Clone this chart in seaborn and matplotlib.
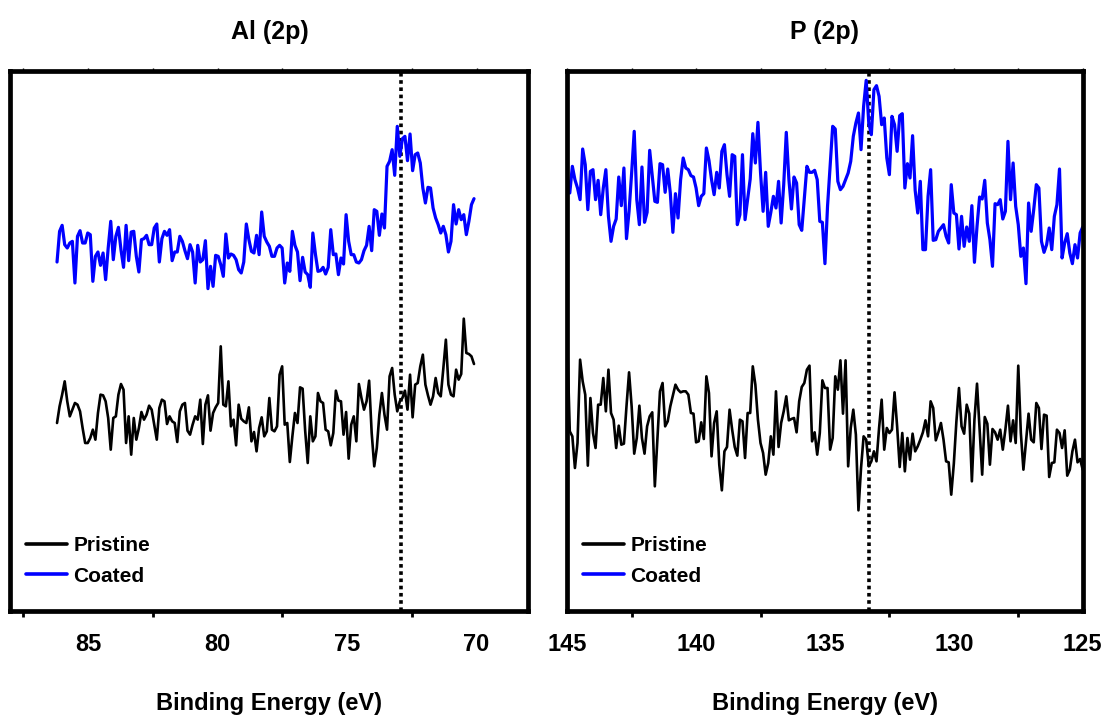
import numpy as np
import pandas as pd
import matplotlib
matplotlib.use("Agg")
import matplotlib.pyplot as plt
import seaborn as sns
from matplotlib import font_manager
from matplotlib.ticker import FixedLocator

# XPS intensities (arbitrary units), sampled on an evenly stepped binding-energy grid
al_pristine = [
    564, 614, 649, 689, 629, 584, 604, 624, 619, 599, 549, 504, 504, 519, 544, 514,
    594, 649, 647, 629, 579, 484, 579, 584, 649, 681, 664, 504, 584, 469, 579, 514,
    549, 597, 574, 589, 616, 604, 559, 514, 609, 634, 629, 561, 584, 569, 564, 507,
    599, 619, 624, 541, 529, 559, 584, 574, 634, 501, 619, 647, 541, 594, 611, 624,
    794, 619, 614, 689, 554, 574, 497, 619, 577, 569, 564, 611, 509, 537, 479, 549,
    581, 524, 539, 639, 544, 539, 554, 709, 734, 559, 564, 447, 524, 594, 564, 671,
    667, 541, 444, 584, 509, 524, 654, 629, 624, 544, 539, 497, 534, 661, 631, 629,
    529, 597, 457, 559, 584, 509, 681, 639, 604, 629, 691, 534, 434, 489, 589, 654,
    589, 544, 704, 729, 649, 599, 629, 639, 661, 604, 709, 581, 679, 684, 734, 769,
    679, 647, 619, 644, 699, 654, 644, 727, 814, 679, 649, 644, 724, 694, 711, 877,
    774, 771, 764, 741,
]
al_coated = [
    1047, 1139, 1157, 1099, 1089, 1104, 1109, 984, 1124, 1141, 1104, 1104, 1134, 1129,
    989, 1064, 1077, 1037, 1074, 994, 1089, 1169, 1054, 1124, 1151, 1084, 1031, 1157,
    1051, 1137, 1139, 1064, 1017, 1114, 1117, 1127, 1099, 1099, 1149, 1161, 1047, 1117,
    1139, 1127, 1144, 1051, 1077, 1077, 1124, 1109, 1081, 1057, 1099, 1077, 984, 1097,
    1047, 1054, 1111, 967, 1034, 974, 1067, 1064, 1039, 1004, 1131, 1059, 1071, 1067,
    1054, 1024, 1014, 1047, 1161, 1114, 1079, 1074, 1127, 1069, 1197, 1124, 1107, 1094,
    1064, 1064, 1089, 1097, 1089, 984, 1044, 1019, 1139, 1097, 1077, 991, 1061, 1017,
    1009, 971, 1134, 1071, 1019, 1021, 1031, 1011, 1031, 1144, 1069, 1071, 1009, 1059,
    1041, 1189, 1109, 1069, 1069, 1047, 1044, 1054, 1081, 1097, 1154, 1081, 1204, 1199,
    1127, 1191, 1149, 1334, 1349, 1384, 1307, 1454, 1364, 1417, 1424, 1351, 1431, 1321,
    1369, 1374, 1344, 1269, 1224, 1271, 1269, 1209, 1179, 1159, 1134, 1154, 1129, 1077,
    1109, 1219, 1161, 1204, 1174, 1189, 1129, 1169, 1219, 1237,
]
p_pristine = [
    814, 539, 524, 429, 504, 754, 689, 649, 436, 639, 534, 489, 619, 619, 699, 599,
    724, 594, 574, 489, 556, 499, 502, 614, 716, 614, 472, 519, 616, 519, 472, 554,
    584, 596, 374, 514, 659, 684, 554, 569, 614, 646, 679, 664, 656, 659, 659, 649,
    594, 592, 506, 509, 566, 516, 704, 654, 464, 564, 599, 439, 362, 479, 492, 604,
    544, 492, 466, 574, 569, 459, 594, 594, 734, 679, 574, 504, 474, 409, 444, 524,
    469, 659, 492, 564, 599, 644, 572, 576, 579, 536, 629, 672, 684, 724, 736, 509,
    536, 469, 534, 692, 669, 669, 484, 519, 704, 664, 752, 592, 752, 434, 549, 604,
    529, 302, 429, 524, 514, 434, 449, 479, 449, 549, 634, 484, 549, 534, 544, 656,
    554, 432, 534, 419, 519, 454, 532, 479, 494, 514, 536, 572, 524, 629, 609, 512,
    536, 564, 514, 449, 446, 349, 442, 569, 669, 554, 532, 619, 592, 389, 574, 682,
    544, 409, 582, 562, 439, 546, 536, 514, 544, 484, 544, 616, 509, 572, 504, 736,
    534, 424, 509, 592, 514, 506, 624, 609, 486, 589, 586, 402, 444, 446, 544, 534,
    489, 542, 406, 424, 479, 514, 446, 456, 424,
]
p_coated = [
    1299, 1254, 1334, 1294, 1269, 1234, 1386, 1339, 1204, 1319, 1324, 1234, 1292, 1189,
    1269, 1324, 1184, 1109, 1154, 1176, 1302, 1216, 1329, 1117, 1199, 1314, 1439, 1234,
    1159, 1332, 1166, 1196, 1382, 1304, 1229, 1226, 1342, 1339, 1256, 1326, 1254, 1136,
    1252, 1179, 1294, 1359, 1329, 1324, 1306, 1302, 1269, 1216, 1244, 1252, 1389, 1352,
    1294, 1249, 1316, 1269, 1379, 1399, 1309, 1244, 1369, 1364, 1159, 1189, 1369, 1174,
    1236, 1296, 1432, 1344, 1466, 1316, 1199, 1316, 1154, 1196, 1244, 1209, 1289, 1164,
    1279, 1436, 1296, 1206, 1302, 1284, 1159, 1142, 1236, 1334, 1316, 1316, 1322, 1294,
    1169, 1166, 1042, 1214, 1334, 1454, 1446, 1289, 1264, 1274, 1294, 1314, 1349, 1424,
    1464, 1494, 1384, 1514, 1592, 1464, 1429, 1564, 1576, 1544, 1459, 1479, 1359, 1309,
    1484, 1459, 1379, 1486, 1492, 1269, 1342, 1299, 1426, 1262, 1194, 1289, 1084, 1084,
    1244, 1324, 1112, 1114, 1139, 1149, 1159, 1124, 1104, 1279, 1194, 1189, 1086, 1184,
    1094, 1152, 1109, 1216, 1046, 1154, 1242, 1236, 1292, 1164, 1114, 1034, 1222, 1219,
    1234, 1176, 1199, 1409, 1234, 1344, 1214, 1159, 1064, 1089, 982, 1224, 1139, 1204,
    1279, 1269, 1109, 1076, 1099, 1149, 1084, 1184, 1219, 1326, 1059, 1104, 1132, 1074,
    1042, 1099, 1059, 1134, 1152,
]

# Binding-energy ranges of the scans (first and last channel, eV)
al_energy_range = (86.2, 70.1)
p_energy_range = (145.0, 125.0)

# Reference peak positions marked by dotted lines (eV)
al_marker = 72.9
p_marker = 133.3

panel_titles = ["Al (2p)", "P (2p)"]
series_labels = ["Pristine", "Coated"]
x_label = "Binding Energy (eV)"
al_ticks = [85, 80, 75, 70]
al_minor = [87.5, 82.5, 77.5, 72.5]
p_ticks = [145, 140, 135, 130, 125]
p_minor = [142.5, 137.5, 132.5, 127.5]


def spectrum_frame(energy_range, pristine, coated):
    n = len(pristine)
    energy = np.linspace(energy_range[0], energy_range[1], n)
    return pd.concat([
        pd.DataFrame({"energy": energy, "intensity": pristine, "sample": series_labels[0]}),
        pd.DataFrame({"energy": energy, "intensity": coated, "sample": series_labels[1]}),
    ], ignore_index=True)


sns.set_theme(style="white")


def pick_family():
    for fam in ["Liberation Sans Narrow", "Liberation Sans", "DejaVu Sans"]:
        try:
            font_manager.findfont(font_manager.FontProperties(family=fam),
                                  fallback_to_default=False)
            return fam
        except Exception:
            continue
    return "DejaVu Sans"


FAMILY = pick_family()
plt.rcParams["font.family"] = [FAMILY, "DejaVu Sans"]
plt.rcParams["font.weight"] = "bold"
plt.rcParams["text.color"] = "black"
plt.rcParams["axes.labelcolor"] = "black"
plt.rcParams["xtick.color"] = "black"

fig = plt.figure(figsize=(11.07, 7.25), dpi=100)
ax_al = fig.add_axes([10.4 / 1107, 114 / 725, 518 / 1107, 540 / 725])
ax_p = fig.add_axes([567.2 / 1107, 114 / 725, 515.5 / 1107, 540 / 725])

panels = [
    (ax_al, spectrum_frame(al_energy_range, al_pristine, al_coated), (88, 68),
     al_ticks, al_minor, al_marker, panel_titles[0]),
    (ax_p, spectrum_frame(p_energy_range, p_pristine, p_coated), (145, 125),
     p_ticks, p_minor, p_marker, panel_titles[1]),
]

palette = {series_labels[0]: "#000000", series_labels[1]: "#0000FF"}

for ax, df, xlim, majors, minors, marker, title in panels:
    sns.lineplot(data=df, x="energy", y="intensity", hue="sample", palette=palette,
                 estimator=None, sort=False, linewidth=2.0, ax=ax, legend=True)
    for line, lab in zip(ax.get_lines(), series_labels):
        line.set_linewidth(1.9 if lab == series_labels[0] else 2.3)
    ax.axvline(marker, color="black", linewidth=2.6, linestyle=(0, (1, 1)), zorder=1)
    ax.set_xlim(*xlim)
    ax.set_ylim(0, 1620)
    ax.set_yticks([])
    ax.set_ylabel("")
    ax.xaxis.set_major_locator(FixedLocator(majors))
    ax.xaxis.set_minor_locator(FixedLocator(minors))
    ax.tick_params(axis="x", which="major", direction="out", length=8, width=2.4,
                   labelsize=17, pad=8, top=True, color="black", labelcolor="black")
    ax.tick_params(axis="x", which="minor", direction="out", length=4, width=2.0,
                   top=True, bottom=True, color="black")
    # keep the mirrored ticks along the top frame short and thin
    for tick in ax.xaxis.get_major_ticks() + ax.xaxis.get_minor_ticks():
        tick.tick2line.set_markersize(2.5)
        tick.tick2line.set_markeredgewidth(1.0)
        tick.tick2line.set_color("#555555")
    for t in ax.get_xticklabels():
        t.set_fontweight("bold")
    for side in ["left", "right", "top", "bottom"]:
        ax.spines[side].set_visible(True)
        ax.spines[side].set_linewidth(3.4)
        ax.spines[side].set_color("black")
    ax.set_xlabel(x_label, fontsize=17, fontweight="bold", labelpad=26, color="black")
    ax.set_title(title, fontsize=18, fontweight="bold", pad=23, color="black")
    handles, labels = ax.get_legend_handles_labels()
    leg = ax.legend(handles, labels, loc="lower left", bbox_to_anchor=(-0.006, 0.012),
                    frameon=False, handlelength=1.97, handletextpad=0.3,
                    labelspacing=0.55, prop={"weight": "bold", "size": 15})
    for lh in leg.get_lines():
        lh.set_linewidth(2.6)
    ax.grid(False)

fig.savefig("out.png", dpi=100, facecolor="white")
